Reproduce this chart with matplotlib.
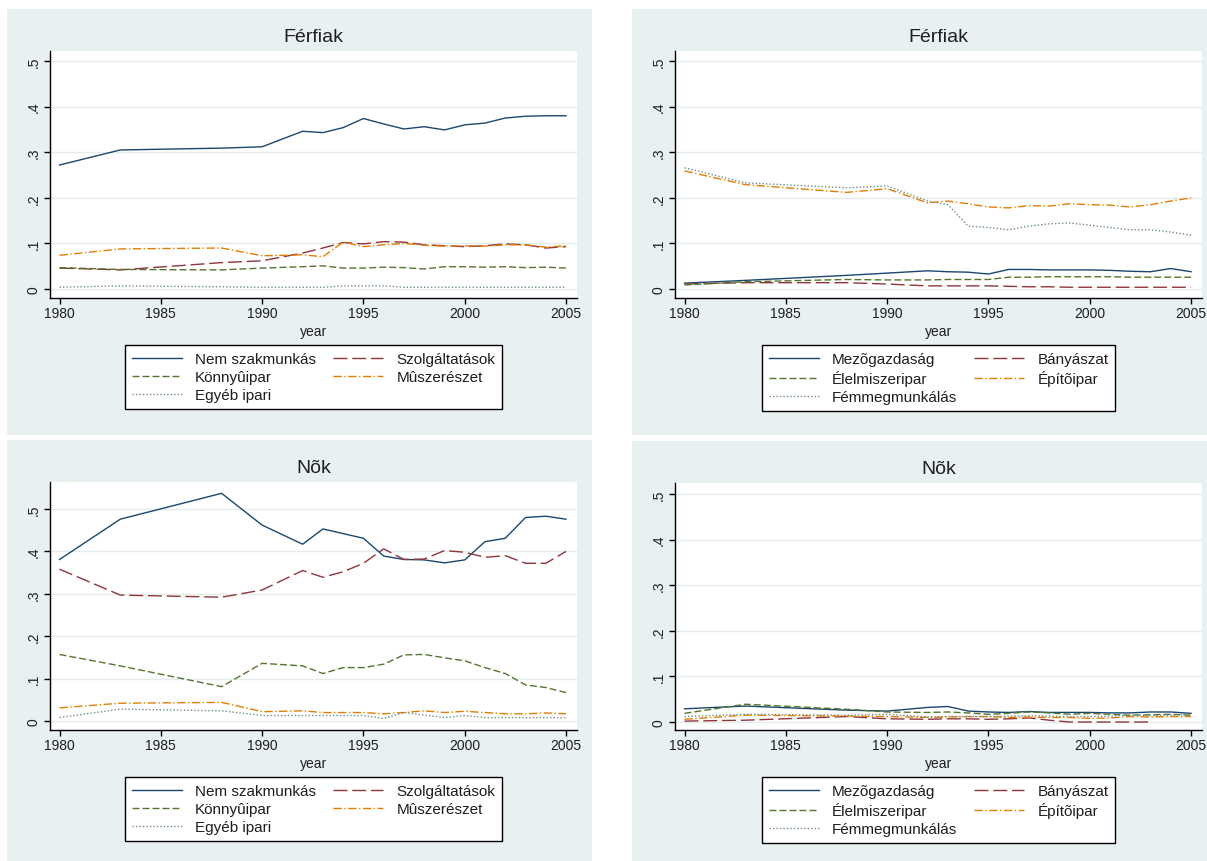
import matplotlib
matplotlib.use('Agg')
import matplotlib.pyplot as plt
from matplotlib.patches import Rectangle

plt.rcParams['font.family'] = ['Liberation Sans', 'DejaVu Sans']

years = [1980, 1983, 1988, 1990] + list(range(1992, 2006))
x_ticks = [1980, 1985, 1990, 1995, 2000, 2005]
y_ticks = [0, .1, .2, .3, .4, .5]
y_tick_labels = ['0', '.1', '.2', '.3', '.4', '.5']

labels_left = ['Nem szakmunkás', 'Szolgáltatások', 'Könnyûipar', 'Mûszerészet', 'Egyéb ipari']
labels_right = ['Mezõgazdaság', 'Bányászat', 'Élelmiszeripar', 'Építõipar', 'Fémmegmunkálás']

# Férfiak, left panel
m_nem_szak = [.272, .305, .309, .312, .346, .343, .354, .374, .362, .351, .356, .349, .360, .364, .375, .379, .380, .380]
m_szolg = [.046, .042, .058, .062, .079, .090, .102, .099, .104, .103, .097, .095, .093, .095, .099, .097, .090, .093]
m_konnyu = [.047, .043, .042, .046, .049, .051, .046, .046, .048, .047, .044, .049, .049, .048, .049, .047, .048, .046]
m_muszer = [.074, .088, .090, .073, .075, .071, .103, .093, .097, .100, .096, .094, .095, .094, .097, .097, .092, .095]
m_egyeb = [.004, .007, .005, .004, .004, .004, .007, .007, .007, .004, .004, .004, .004, .004, .004, .004, .004, .004]

# Férfiak, right panel
m_mezo = [.013, .019, .030, .035, .040, .038, .037, .033, .043, .043, .042, .042, .042, .041, .039, .038, .045, .038]
m_banya = [.011, .014, .014, .011, .007, .007, .007, .007, .006, .005, .005, .004, .004, .004, .004, .004, .004, .004]
m_elelm = [.009, .016, .021, .020, .020, .021, .021, .021, .026, .026, .027, .027, .027, .027, .026, .026, .026, .026]
m_epito = [.259, .229, .212, .220, .189, .193, .187, .180, .178, .183, .182, .187, .185, .184, .180, .185, .193, .200]
m_femm = [.266, .233, .222, .226, .193, .185, .138, .135, .130, .138, .143, .145, .140, .135, .130, .130, .125, .118]

# Nõk, left panel
f_nem_szak = [.381, .476, .537, .462, .417, .453, .442, .431, .389, .381, .380, .373, .380, .423, .431, .480, .483, .476]
f_szolg = [.358, .297, .292, .309, .355, .339, .352, .372, .406, .381, .382, .402, .398, .386, .390, .372, .372, .400]
f_konnyu = [.157, .130, .081, .136, .130, .112, .126, .126, .134, .156, .157, .149, .142, .126, .112, .085, .079, .067]
f_muszer = [.031, .042, .044, .022, .024, .020, .020, .020, .017, .020, .024, .020, .023, .020, .017, .017, .019, .017]
f_egyeb = [.008, .028, .024, .013, .013, .013, .013, .013, .006, .020, .014, .008, .013, .008, .008, .008, .008, .008]

# Nõk, right panel
f_mezo = [.029, .035, .026, .024, .032, .034, .024, .022, .021, .023, .021, .021, .021, .020, .020, .022, .022, .019]
f_banya = [.002, .004, .012, .007, .006, .007, .007, .006, .007, .009, .004, 0, 0, 0, 0, 0, None, None]
f_elelm = [.019, .039, .028, .022, .021, .022, .020, .017, .019, .022, .020, .017, .019, .017, .015, .016, .017, .015]
f_epito = [.006, .015, .013, .012, .010, .011, .012, .012, .010, .011, .010, .010, .008, .009, .012, .011, .012, .012]
f_femm = [.012, .017, .015, .017, .011, .012, .012, .012, .013, .014, .013, .012, .012, .013, .015, .014, .015, .017]

W, H = 1207, 862
bg = '#e8f0f2'
grid_col = '#e3ebed'
txt = '#1e1e1e'
colors = ['#1a476f', '#90353b', '#55752f', '#e37e00', '#6e8e84']
dashes = ['-', (0, (10, 3.5)), (0, (5, 2.2)), (0, (6, 1.8, 1, 1.8)), (0, (1, 1.5))]

fig = plt.figure(figsize=(W / 100, H / 100), dpi=100)
fig.patch.set_facecolor('white')


def panel(left, top, bottom, ylim, title, series, labels):
    # grey panel behind the plot
    fig.patches.append(Rectangle(((left - 43) / W, 1 - (top + 384) / H), 585 / W, 426 / H,
                                 transform=fig.transFigure, facecolor=bg, edgecolor='none', zorder=-10))
    right = left + 527
    ax = fig.add_axes([left / W, 1 - bottom / H, (right - left) / W, (bottom - top) / H])
    handles = []
    for vals, c, d in zip(series, colors, dashes):
        pts = [(y, v) for y, v in zip(years, vals) if v is not None]
        h, = ax.plot([p[0] for p in pts], [p[1] for p in pts], color=c, linestyle=d, lw=1.0)
        handles.append(h)
    ax.set_xlim(1979.53, 2005.54)
    ax.set_ylim(*ylim)
    ax.set_xticks(x_ticks)
    ax.set_yticks(y_ticks)
    ax.set_yticklabels(y_tick_labels)
    ax.tick_params(axis='both', direction='out', length=4, width=1, labelsize=10, colors='black',
                   labelcolor=txt)
    ax.tick_params(axis='x', pad=2)
    ax.tick_params(axis='y', pad=3, labelrotation=90)
    for lab in ax.get_yticklabels():
        lab.set_va('center')
    ax.yaxis.grid(True, color=grid_col, lw=1)
    ax.set_axisbelow(True)
    for s in ['top', 'right']:
        ax.spines[s].set_visible(False)
    for s in ['left', 'bottom']:
        ax.spines[s].set_linewidth(1.0)
    cx = (left + right) / 2 / W
    fig.text(cx, 1 - (top - 14) / H, title, ha='center', va='center', fontsize=14, color=txt)
    fig.text(cx, 1 - (bottom + 33) / H, 'year', ha='center', va='center', fontsize=10, color=txt)
    order = [0, 2, 4, 1, 3]
    leg = ax.legend([handles[i] for i in order], [labels[i] for i in order], ncol=2,
                    loc='upper center', bbox_to_anchor=(cx, 1 - (bottom + 47) / H),
                    bbox_transform=fig.transFigure, fontsize=11, frameon=True, fancybox=False,
                    framealpha=1, edgecolor='black', handlelength=3.3, handletextpad=0.85,
                    columnspacing=1.1, borderpad=0.45, labelspacing=0.28, borderaxespad=0)
    leg.get_frame().set_linewidth(1.0)
    for t in leg.get_texts():
        t.set_color(txt)
    return ax


panel(50, 52, 299, (-0.0196, 0.522), 'Férfiak',
      [m_nem_szak, m_szolg, m_konnyu, m_muszer, m_egyeb], labels_left)
panel(675, 52, 299, (-0.0196, 0.522), 'Férfiak',
      [m_mezo, m_banya, m_elelm, m_epito, m_femm], labels_right)
panel(50, 483, 731, (-0.0212, 0.5637), 'Nõk',
      [f_nem_szak, f_szolg, f_konnyu, f_muszer, f_egyeb], labels_left)
panel(675, 484, 731, (-0.0175, 0.524), 'Nõk',
      [f_mezo, f_banya, f_elelm, f_epito, f_femm], labels_right)

plt.savefig('out.png', dpi=100)
